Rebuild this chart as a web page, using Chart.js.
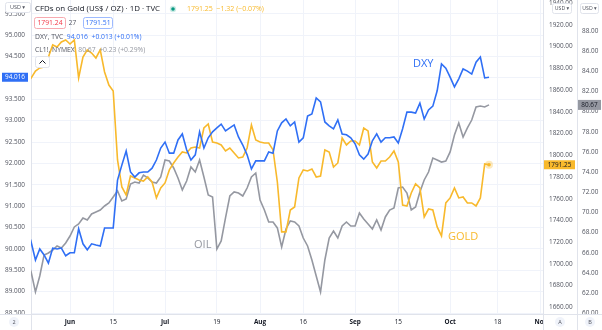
<!DOCTYPE html>
<html>
<head>
<meta charset="utf-8">
<title>Gold, DXY and Oil</title>
<script src="https://cdn.jsdelivr.net/npm/chart.js@4.4.0/dist/chart.umd.min.js"></script>
<style>
  html, body { margin: 0; padding: 0; background: #fff; }
  #wrap { width: 602px; height: 330px; position: relative; }
</style>
</head>
<body>
<div id="wrap"><canvas id="chart" width="602" height="330"></canvas></div>
<script>
// x = weekday slot counted from 1 June (slot 0), first bar sits at slot -10
const firstSlot = -10;

// DXY, TVC daily closes
const dxy = [
  89.84, 90.16, 89.74, 90.00, 89.86, 89.67, 90.02, 90.00, 90.02, 89.84,
  89.91, 89.91, 90.47, 90.12, 89.98, 90.12, 90.09, 90.07, 90.49, 90.49,
  90.49, 91.61, 91.96, 92.29, 91.80, 91.68, 91.78, 91.80, 91.80, 91.89,
  92.08, 92.36, 92.50, 92.24, 92.24, 92.55, 92.69, 92.32, 92.08, 92.20,
  92.74, 92.36, 92.60, 92.74, 92.83, 92.92, 92.76, 92.83, 92.90, 92.62,
  92.43, 92.20, 91.87, 92.06, 92.06, 92.06, 92.27, 92.24, 92.76, 92.95,
  93.04, 92.88, 92.97, 92.50, 92.60, 93.11, 93.16, 93.53, 93.44, 92.97,
  92.88, 92.81, 93.02, 92.69, 92.67, 92.60, 92.46, 92.20, 92.10, 92.22,
  92.53, 92.69, 92.50, 92.60, 92.60, 92.62, 92.48, 92.81, 93.20, 93.20,
  93.18, 93.41, 93.04, 93.25, 93.34, 93.70, 94.33, 94.23, 94.02, 93.79,
  93.98, 94.21, 94.16, 94.09, 94.37, 94.49, 94.00, 94.016
];

// CFDs on Gold (US$ / OZ)
const gold = [
  1865.7, 1871.2, 1877.6, 1880.4, 1881.3, 1890.5, 1901.6, 1899.7, 1904.3, 1906.2,
  1902.5, 1906.2, 1871.2, 1890.5, 1897.0, 1894.2, 1889.6, 1897.0, 1876.7, 1864.7,
  1859.2, 1795.7, 1770.8, 1763.4, 1780.9, 1779.1, 1777.3, 1776.3, 1780.0, 1775.4,
  1760.7, 1769.9, 1774.5, 1786.5, 1792.9, 1798.4, 1803.0, 1802.1, 1806.7, 1807.6,
  1806.7, 1825.1, 1828.8, 1812.2, 1811.3, 1809.5, 1804.0, 1806.7, 1802.1, 1797.5,
  1798.4, 1806.7, 1827.9, 1814.1, 1812.2, 1811.3, 1811.3, 1804.9, 1775.4, 1729.4,
  1729.4, 1749.6, 1752.4, 1779.1, 1786.5, 1785.5, 1787.4, 1780.0, 1780.9, 1804.9,
  1803.0, 1789.2, 1792.9, 1815.9, 1809.5, 1813.2, 1813.2, 1809.5, 1825.1, 1822.4,
  1793.8, 1788.3, 1794.7, 1794.7, 1798.4, 1804.0, 1793.8, 1754.2, 1753.3, 1765.3,
  1773.6, 1769.9, 1743.2, 1750.5, 1749.6, 1734.0, 1725.7, 1756.1, 1760.7, 1769.9,
  1760.7, 1761.6, 1756.1, 1756.1, 1753.3, 1760.7, 1792.0, 1791.25
];

// CL1!, NYMEX crude oil
const oil = [
  65.28, 64.09, 62.11, 63.69, 65.78, 65.98, 66.27, 66.67, 66.47, 66.97,
  67.66, 68.56, 68.85, 69.45, 69.25, 69.85, 70.04, 70.24, 70.64, 70.94,
  71.53, 72.13, 71.13, 71.33, 72.82, 73.02, 72.92, 73.71, 73.42, 73.02,
  72.92, 73.52, 75.20, 75.10, 74.41, 73.42, 72.23, 73.12, 74.51, 74.01,
  75.20, 73.52, 71.73, 71.53, 66.37, 67.17, 69.45, 71.63, 72.03, 71.93,
  71.63, 72.42, 73.52, 73.91, 71.23, 70.24, 69.05, 69.05, 68.46, 66.57,
  68.36, 69.15, 69.05, 68.65, 67.46, 66.67, 65.28, 63.69, 62.11, 65.28,
  67.46, 68.16, 67.46, 68.65, 69.05, 68.65, 68.65, 69.94, 69.35, 68.85,
  68.36, 69.25, 68.26, 69.55, 70.24, 70.44, 72.42, 72.52, 71.93, 70.24,
  70.54, 72.03, 73.22, 74.01, 75.40, 75.20, 75.00, 75.10, 76.00, 77.68,
  78.87, 77.48, 78.38, 79.17, 80.46, 80.56, 80.46, 80.67
];

// time axis labels and their weekday slots
const dateTicks = [0, 10, 22, 34, 44, 54, 66, 76, 88, 99, 109];
const dateLabels = ['Jun', '15', 'Jul', '19', 'Aug', '16', 'Sep', '15', 'Oct', '18', 'Nov'];

// price scale labels
const dxyTicks = [88.5, 89, 89.5, 90, 90.5, 91, 91.5, 92, 92.5, 93, 93.5, 94, 94.5, 95, 95.5];
const goldTicks = [1660, 1680, 1700, 1720, 1740, 1760, 1780, 1800, 1820, 1840, 1860, 1880, 1900, 1920, 1940];
const oilTicks = [60, 62, 64, 66, 68, 70, 72, 74, 76, 78, 80, 82, 84, 86, 88, 90];

const BLUE = '#2f6ff5';
const ORANGE = '#f8b92c';
const GRAY = '#9598a1';
const TEXT = '#131722';
const SUB = '#50535e';
const LINE = '#e0e3eb';
const GRID = '#f0f3fa';
const FONT = "'Open Sans', 'DejaVu Sans', sans-serif";

const toPoints = arr => arr.map((v, i) => ({ x: firstSlot + i, y: v }));
const setTicks = list => scale => { scale.ticks = list.map(v => ({ value: v })); };
const tickFont = { family: FONT, size: 6.4 };

// draws a string and returns where it ends
function text(ctx, str, x, y, color, size, opts) {
  opts = opts || {};
  ctx.save();
  ctx.font = (opts.weight || 'normal') + ' ' + size + 'px ' + FONT;
  ctx.fillStyle = color;
  ctx.textAlign = opts.align || 'left';
  ctx.textBaseline = opts.baseline || 'middle';
  ctx.fillText(str, x, y);
  const w = ctx.measureText(str).width;
  ctx.restore();
  return x + w;
}

function box(ctx, x, y, w, h, stroke, fill) {
  ctx.save();
  ctx.beginPath();
  ctx.roundRect(x + 0.5, y + 0.5, w, h, 2);
  if (fill) { ctx.fillStyle = fill; ctx.fill(); }
  if (stroke) { ctx.strokeStyle = stroke; ctx.lineWidth = 1; ctx.stroke(); }
  ctx.restore();
}

const overlay = {
  id: 'overlay',
  beforeDraw(chart) {
    const ctx = chart.ctx;
    ctx.save();
    ctx.fillStyle = '#fff';
    ctx.fillRect(0, 0, chart.width, chart.height);
    ctx.restore();
  },
  afterDraw(chart) {
    const ctx = chart.ctx;
    const { x, yDxy, yGold, yOil } = chart.scales;
    const last = dxy.length - 1;

    // legend block in the top-left corner
    text(ctx, 'CFDs on Gold (US$ / OZ) · 1D · TVC', 35, 9, TEXT, 7.9);
    ctx.save();
    ctx.fillStyle = 'rgba(8,153,129,0.2)';
    ctx.beginPath(); ctx.arc(173, 9, 3.2, 0, Math.PI * 2); ctx.fill();
    ctx.fillStyle = '#089981';
    ctx.beginPath(); ctx.arc(173, 9, 1.8, 0, Math.PI * 2); ctx.fill();
    ctx.restore();
    text(ctx, '1791.25  −1.32 (−0.07%)', 187, 9, ORANGE, 7);

    box(ctx, 34, 17, 31, 11, '#f7a9b0', '#fff');
    text(ctx, '1791.24', 50, 23, '#f23645', 6.8, { align: 'center' });
    text(ctx, '27', 72.5, 23, SUB, 6.5, { align: 'center' });
    box(ctx, 83, 17, 29, 11, '#9dbaff', '#fff');
    text(ctx, '1791.51', 98, 23, BLUE, 6.8, { align: 'center' });

    let end = text(ctx, 'DXY, TVC', 35, 37, SUB, 6.8);
    text(ctx, '94.016  +0.013 (+0.01%)', end + 3.5, 37, BLUE, 6.8);
    end = text(ctx, 'CL1!, NYMEX', 35, 50, SUB, 6.8);
    text(ctx, '80.67  +0.23 (+0.29%)', end + 3.5, 50, GRAY, 6.8);

    box(ctx, 35, 56, 14, 11, LINE, '#fff');
    ctx.save();
    ctx.strokeStyle = TEXT;
    ctx.lineWidth = 1;
    ctx.beginPath();
    ctx.moveTo(39.5, 63.5); ctx.lineTo(42.5, 60.5); ctx.lineTo(45.5, 63.5);
    ctx.stroke();
    ctx.restore();

    // series names on the plot
    text(ctx, 'DXY', 413, 66.5, BLUE, 11, { baseline: 'alphabetic' });
    text(ctx, 'GOLD', 448, 239.5, ORANGE, 11, { baseline: 'alphabetic' });
    text(ctx, 'OIL', 194, 247.5, GRAY, 11, { baseline: 'alphabetic' });

    // last gold bar marker
    const gx = x.getPixelForValue(firstSlot + last);
    const gy = yGold.getPixelForValue(gold[last]);
    ctx.save();
    ctx.fillStyle = 'rgba(248,185,44,0.3)';
    ctx.beginPath(); ctx.arc(gx, gy, 4, 0, Math.PI * 2); ctx.fill();
    ctx.fillStyle = ORANGE;
    ctx.beginPath(); ctx.arc(gx, gy, 1.8, 0, Math.PI * 2); ctx.fill();
    ctx.restore();

    // last value tags on the price scales
    const dy = yDxy.getPixelForValue(dxy[last]);
    ctx.fillStyle = BLUE;
    ctx.fillRect(2, dy - 4.5, 26, 9);
    text(ctx, dxy[last].toFixed(3), 15, dy, '#fff', 6.4, { align: 'center' });

    ctx.fillStyle = ORANGE;
    ctx.fillRect(544, gy - 4.5, 31, 9);
    text(ctx, gold[last].toFixed(2), 559.5, gy, TEXT, 6.4, { align: 'center' });

    const oy = yOil.getPixelForValue(oil[last]);
    ctx.fillStyle = GRAY;
    ctx.fillRect(578, oy - 5, 23, 10);
    text(ctx, oil[last].toFixed(2), 589.5, oy, TEXT, 6.4, { align: 'center' });

    // currency buttons on top of every price scale
    box(ctx, 5, 2, 25, 10, LINE, '#fff');
    text(ctx, 'USD ▾', 17.5, 7.5, SUB, 5.5, { align: 'center' });
    box(ctx, 552, 3, 19, 10, LINE, '#fff');
    text(ctx, 'USD ▾', 562, 8.5, SUB, 5.2, { align: 'center' });
    box(ctx, 580, 3, 18, 10, LINE, '#fff');
    text(ctx, 'USD ▾', 589.5, 8.5, SUB, 5.2, { align: 'center' });

    // bottom strip under the price scales
    ctx.fillStyle = '#fff';
    ctx.fillRect(544, 315, 58, 15);
    ctx.save();
    ctx.strokeStyle = LINE;
    ctx.lineWidth = 1;
    ctx.beginPath();
    ctx.moveTo(0, 314.5); ctx.lineTo(602, 314.5);
    ctx.moveTo(543.5, 0); ctx.lineTo(543.5, 330);
    ctx.moveTo(577.5, 0); ctx.lineTo(577.5, 330);
    ctx.moveTo(31.5, 314); ctx.lineTo(31.5, 330);
    ctx.stroke();
    ctx.restore();

    [[14, '2'], [560, 'A'], [590, 'B']].forEach(([cx, s]) => {
      ctx.fillStyle = GRID;
      ctx.beginPath(); ctx.arc(cx, 322, 5, 0, Math.PI * 2); ctx.fill();
      text(ctx, s, cx, 322.3, SUB, 5.5, { align: 'center' });
    });
  }
};

new Chart(document.getElementById('chart'), {
  type: 'line',
  data: {
    datasets: [
      { label: 'DXY', data: toPoints(dxy), yAxisID: 'yDxy', borderColor: BLUE, order: 0 },
      { label: 'Gold', data: toPoints(gold), yAxisID: 'yGold', borderColor: ORANGE, order: 1 },
      { label: 'Oil', data: toPoints(oil), yAxisID: 'yOil', borderColor: GRAY, order: 2 }
    ]
  },
  options: {
    responsive: false,
    animation: false,
    devicePixelRatio: 1,
    layout: { padding: 0 },
    elements: {
      line: { borderWidth: 1.6, tension: 0 },
      point: { radius: 0, hoverRadius: 0 }
    },
    plugins: { legend: { display: false }, tooltip: { enabled: false } },
    scales: {
      x: {
        type: 'linear',
        min: -9.03,
        max: 109.5,
        afterBuildTicks: setTicks(dateTicks),
        afterFit: s => { s.height = 16; s.paddingLeft = 0; s.paddingRight = 0; },
        grid: { color: GRID, drawTicks: false },
        border: { color: LINE },
        ticks: {
          autoSkip: false,
          maxRotation: 0,
          padding: 4,
          color: TEXT,
          callback: (v, i) => dateLabels[i],
          font: c => ({
            family: FONT,
            size: 6.4,
            weight: /^[A-Z]/.test(dateLabels[c.index] || '') ? 'bold' : 'normal'
          })
        }
      },
      yDxy: {
        position: 'left',
        min: 88.478,
        max: 95.823,
        afterBuildTicks: setTicks(dxyTicks),
        afterFit: s => { s.width = 31; s.paddingTop = 0; s.paddingBottom = 0; },
        grid: { color: GRID, drawTicks: false },
        border: { color: LINE },
        ticks: { crossAlign: 'center', padding: 6, color: SUB, font: tickFont, callback: v => v.toFixed(3) }
      },
      yGold: {
        position: 'right',
        weight: 0,
        min: 1653.8,
        max: 1943.0,
        afterBuildTicks: setTicks(goldTicks),
        afterFit: s => { s.width = 34; s.paddingTop = 0; s.paddingBottom = 0; },
        grid: { display: false, drawTicks: false },
        border: { color: LINE },
        ticks: { crossAlign: 'center', padding: 6, color: SUB, font: tickFont, callback: v => v.toFixed(2) }
      },
      yOil: {
        position: 'right',
        weight: 1,
        min: 59.92,
        max: 91.08,
        afterBuildTicks: setTicks(oilTicks),
        afterFit: s => { s.width = 25; s.paddingTop = 0; s.paddingBottom = 0; },
        grid: { display: false, drawTicks: false },
        border: { color: LINE },
        ticks: { crossAlign: 'center', padding: 5, color: SUB, font: tickFont, callback: v => v.toFixed(2) }
      }
    }
  },
  plugins: [overlay]
});
</script>
</body>
</html>
